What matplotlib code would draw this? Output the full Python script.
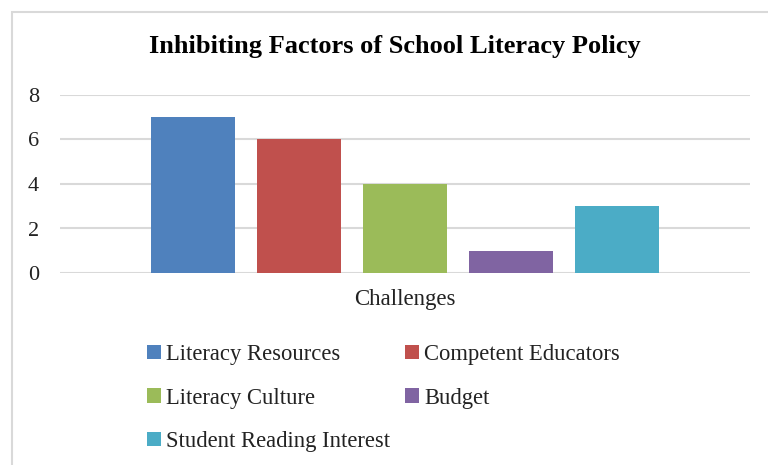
import matplotlib.pyplot as plt
from matplotlib.patches import Rectangle

# chart data
categories = ['Literacy Resources', 'Competent Educators', 'Literacy Culture',
              'Budget', 'Student Reading Interest']
counts = [7, 6, 4, 1, 3]
colors = ['#4F81BD', '#C0504D', '#9BBB59', '#8064A2', '#4BACC6']
yticks = [0, 2, 4, 6, 8]

plt.rcParams['font.family'] = ['Liberation Serif', 'DejaVu Serif']

fig = plt.figure(figsize=(7.68, 4.65), dpi=100)
ax = fig.add_axes([60 / 768, 1 - 273 / 465, 690 / 768, 178 / 465])

# outer chart border (light gray, runs off the right and bottom)
fig.patches.append(Rectangle((12 / 768, -0.1), 1.2, 1 - 12 / 465 + 0.1,
                             transform=fig.transFigure, fill=False,
                             edgecolor='#d9d9d9', linewidth=1.5))

positions = [i - 2 for i in range(len(categories))]
handles = []
for x, v, c, lab in zip(positions, counts, colors, categories):
    h = ax.bar(x, v, width=0.79, color=c, label=lab, zorder=3)
    handles.append(h)

ax.set_xlim(-3.255, 3.255)
ax.set_ylim(0, 8)
ax.set_yticks(yticks)
ax.set_xticks([])
ax.yaxis.grid(True, color='#d9d9d9', linewidth=1.5, zorder=0)
for s in ax.spines.values():
    s.set_visible(False)
ax.tick_params(axis='y', length=0, labelsize=16, pad=15, labelcolor='#222222')

fig.text(395 / 768, 1 - 47 / 465, 'Inhibiting Factors of School Literacy Policy',
         ha='center', va='center', fontsize=19, fontweight='bold')
fig.text(405 / 768, 1 - 300 / 465, 'Challenges', ha='center', va='center',
         fontsize=16.5, color='#222222')

# legend filled column-first, so reorder to read row by row
order = [0, 2, 4, 1, 3]
leg = fig.legend([handles[i] for i in order], [categories[i] for i in order],
                 ncol=2, loc='upper left', bbox_to_anchor=(147 / 768, 1 - 344 / 465),
                 frameon=False, fontsize=16.3, handlelength=0.6, handleheight=0.6,
                 handletextpad=0.25, columnspacing=0.65, labelspacing=1.0,
                 borderaxespad=0, borderpad=0)
for t in leg.get_texts():
    t.set_color('#222222')

fig.savefig('out.png', dpi=100)
